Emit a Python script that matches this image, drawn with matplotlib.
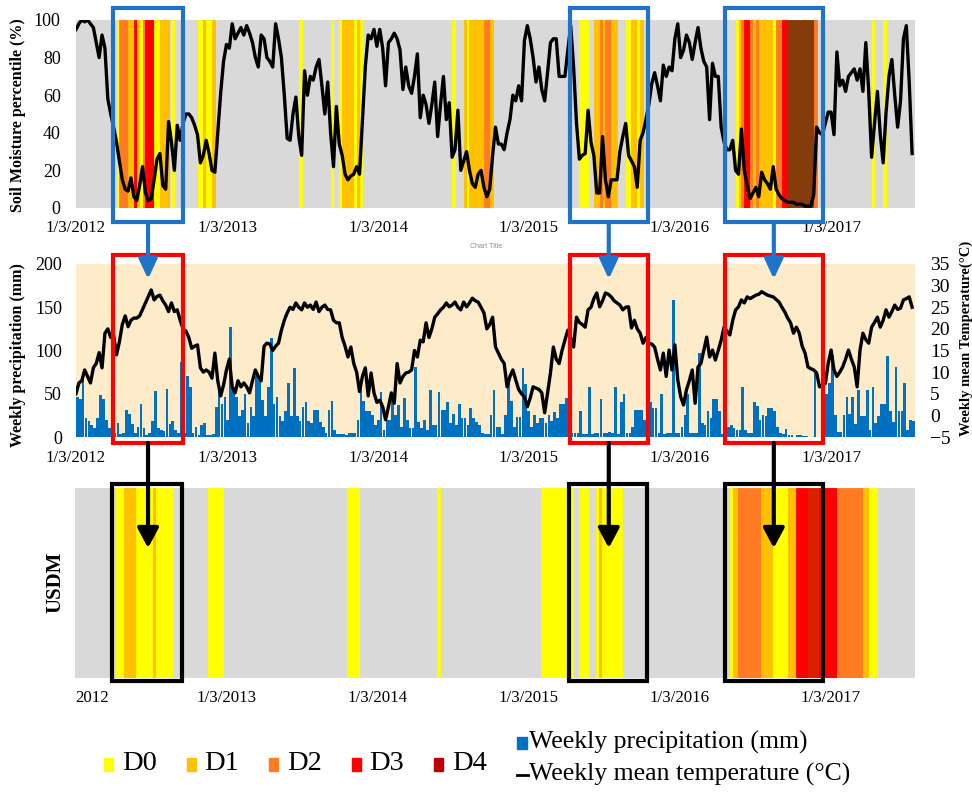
import matplotlib
matplotlib.use("Agg")
import matplotlib.dates as mdates
import matplotlib.pyplot as plt
import pandas as pd
from matplotlib.lines import Line2D
from matplotlib.patches import FancyArrowPatch, Rectangle

plt.rcParams["font.family"] = ["Liberation Serif", "DejaVu Serif"]

W, H = 972, 792

# weekly series, first week starting 1/3/2012
weeks = pd.date_range("2012-01-03", periods=290, freq="7D")
edges = pd.date_range("2012-01-03", periods=291, freq="7D")

soil_moisture = [
    95, 98, 100, 99, 100, 98, 96, 88, 80, 92,
    85, 58, 50, 43, 35, 25, 15, 10, 9, 16,
    6, 4, 12, 22, 8, 4, 5, 15, 26, 29,
    12, 10, 46, 35, 20, 44, 36, 45, 50, 50,
    48, 44, 39, 24, 28, 36, 29, 20, 19, 40,
    61, 78, 87, 85, 98, 90, 93, 96, 92, 97,
    93, 88, 80, 75, 92, 90, 80, 78, 75, 98,
    90, 80, 60, 37, 36, 50, 59, 38, 28, 73,
    60, 70, 68, 75, 79, 65, 50, 67, 40, 22,
    54, 34, 28, 18, 15, 17, 18, 22, 18, 47,
    75, 92, 90, 95, 86, 95, 85, 65, 88, 90,
    93, 90, 84, 63, 75, 65, 61, 70, 82, 48,
    60, 55, 45, 55, 67, 38, 55, 70, 47, 56,
    27, 31, 52, 20, 25, 30, 20, 13, 11, 18,
    20, 11, 6, 10, 28, 43, 34, 34, 31, 40,
    47, 60, 57, 65, 57, 89, 97, 90, 80, 67,
    75, 63, 57, 72, 88, 90, 90, 70, 70, 70,
    84, 97, 75, 45, 26, 28, 29, 52, 35, 28,
    8, 8, 38, 15, 6, 15, 15, 15, 30, 38,
    45, 28, 25, 22, 11, 36, 40, 47, 55, 66,
    72, 65, 57, 76, 70, 75, 73, 90, 98, 80,
    84, 92, 88, 79, 88, 96, 85, 78, 75, 47,
    77, 70, 70, 43, 35, 31, 31, 36, 20, 18,
    42, 20, 12, 5, 8, 11, 6, 19, 15, 13,
    10, 22, 10, 7, 5, 4, 3, 3, 3, 2,
    2, 2, 1, 1, 1, 7, 43, 40, 39, 45,
    51, 51, 39, 83, 65, 68, 62, 70, 72, 74,
    68, 74, 62, 88, 62, 27, 45, 62, 39, 24,
    51, 70, 79, 60, 43, 57, 90, 97, 67, 29,
]

temperature = [
    5, 7.5, 8, 10.5, 9, 7.5, 11, 12, 14.5, 11,
    19, 20, 18, 18.5, 14, 17, 21, 23, 20.5, 22,
    22.5, 22.5, 23, 24.5, 26, 27.5, 29, 26.7, 27.5, 27.8,
    26.5, 25.5, 24, 26, 24, 24.4, 22, 20, 19.5, 18,
    15.5, 16, 16.3, 11, 10, 10.5, 10, 8.6, 14.4, 8,
    4.5, 7, 10.5, 13, 6.5, 5.2, 8, 6.6, 7.5, 6.6,
    5.2, 8, 10.5, 9, 8, 16, 16.7, 16.5, 15, 16,
    16.7, 19.7, 22, 23.7, 25, 24.5, 26, 25, 24.4, 26,
    25, 25.5, 24.5, 26.2, 24, 25, 25.5, 24.5, 24.4, 22,
    21.4, 21.4, 18, 16, 13.5, 15.8, 12, 10, 5.5, 9,
    11, 4.5, 9.8, 5.2, 3, 3.5, 2, -1, 2, 5.2,
    2.8, 12, 7.5, 9, 9.8, 10, 10.5, 15, 13.5, 17.4,
    17, 21.4, 18, 20, 22.7, 23.5, 24.4, 25, 26, 25.1,
    25.5, 26.2, 25, 24.4, 26.2, 25.1, 26, 27.1, 26.5, 26.2,
    25, 23.7, 20, 21, 22.7, 15.8, 14.4, 13, 12, 6.6,
    9, 10.5, 8.2, 6, 5, 4.3, 2, 4, 6.6, 6.3,
    6, 5.2, 0.6, 5.2, 9.8, 15.8, 13, 12, 15, 17.4,
    19.7, 18, 15.8, 22.7, 21.5, 21, 20.4, 24.4, 25, 27,
    28.3, 25.1, 26.5, 28.3, 28, 27.4, 26.5, 26, 25.5, 24.4,
    25, 25.1, 20.2, 22, 20, 19, 16.7, 18, 16.7, 16.5,
    15.8, 13, 10.5, 14.4, 9, 15.1, 10.5, 16.3, 8.2, 4.3,
    2.4, 5.9, 8, 10.5, 2.8, 11.2, 12, 15, 18.1, 13.5,
    15.1, 12.8, 15, 17.4, 20.4, 19.5, 18.6, 22, 24.4, 25.1,
    26.7, 26, 27.4, 27, 27.4, 27.8, 28, 28.6, 28.2, 27.8,
    27.6, 27.4, 26.8, 26.2, 25, 23.9, 22.5, 21.4, 19, 20.4,
    19, 16, 14.4, 11.2, 10.8, 10.5, 9.8, 6.6, 7, 7.4,
    12, 15.1, 10.5, 9, 10, 11.2, 13, 15.1, 13, 11.2,
    6.6, 15.1, 19, 17.5, 16.7, 20.4, 21.5, 22.7, 20.4, 22,
    24.4, 22.7, 24, 25.5, 24.5, 24.8, 26.7, 27, 27.4, 25,
]

precip = [
    46, 44, 66, 22, 19, 14, 10, 22, 48, 44,
    20, 10, 8, 5, 16, 3, 5, 31, 27, 15,
    5, 12, 38, 10, 2, 5, 18, 53, 10, 8,
    7, 55, 15, 18, 8, 5, 87, 5, 70, 58,
    5, 12, 2, 14, 16, 2, 2, 3, 35, 60,
    38, 46, 20, 127, 58, 46, 24, 31, 50, 16,
    35, 24, 70, 66, 43, 24, 58, 114, 38, 46,
    24, 18, 30, 62, 24, 80, 24, 18, 35, 40,
    18, 16, 31, 31, 17, 12, 5, 31, 42, 8,
    3, 3, 4, 2, 5, 5, 5, 20, 58, 42,
    30, 30, 26, 14, 20, 52, 8, 20, 20, 50,
    26, 37, 12, 45, 20, 10, 10, 81, 17, 10,
    20, 8, 54, 14, 14, 52, 31, 31, 41, 16,
    27, 14, 38, 22, 22, 14, 34, 22, 17, 14,
    5, 4, 4, 26, 54, 12, 12, 4, 25, 62,
    42, 12, 23, 23, 80, 61, 30, 12, 26, 16,
    22, 22, 16, 25, 18, 29, 22, 38, 38, 45,
    46, 5, 5, 5, 30, 4, 4, 58, 4, 5,
    5, 44, 5, 5, 6, 5, 58, 4, 40, 50,
    5, 5, 12, 31, 31, 31, 20, 15, 40, 34,
    34, 5, 50, 4, 5, 5, 158, 5, 5, 12,
    25, 50, 5, 5, 5, 97, 16, 14, 30, 22,
    44, 44, 30, 3, 8, 12, 14, 10, 8, 8,
    58, 8, 5, 5, 40, 36, 20, 26, 24, 33,
    33, 30, 12, 5, 3, 9, 2, 2, 0, 2,
    2, 1, 1, 0, 0, 74, 0, 0, 25, 50,
    62, 95, 25, 6, 6, 25, 46, 27, 46, 15,
    54, 24, 24, 54, 8, 58, 16, 24, 38, 38,
    94, 30, 17, 81, 30, 30, 62, 8, 20, 18,
]

# drought class runs: (first week, end week exclusive, class 1=D0 ... 5=D4)
sm_runs = [
    (14, 15, 1), (15, 18, 3), (18, 20, 2), (20, 21, 4), (21, 22, 2), (22, 23, 1),
    (23, 24, 3), (24, 27, 4), (27, 29, 1), (29, 32, 2), (33, 34, 1),
    (42, 44, 1), (44, 45, 2), (45, 47, 1), (47, 48, 2),
    (77, 78, 1),
    (88, 89, 1), (91, 92, 1), (92, 96, 2), (96, 97, 1), (97, 98, 2), (98, 99, 1),
    (130, 131, 1), (134, 135, 2), (135, 136, 1), (136, 141, 2), (141, 143, 3), (143, 144, 2),
    (174, 177, 1), (179, 181, 2), (181, 182, 3), (182, 183, 2), (183, 185, 3), (185, 187, 2),
    (190, 192, 1), (192, 194, 2), (194, 195, 1), (195, 196, 2),
    (228, 229, 1), (229, 230, 2), (230, 231, 3), (231, 233, 4), (233, 234, 3), (234, 235, 2),
    (235, 236, 3), (236, 241, 2), (241, 242, 1), (242, 244, 3), (244, 246, 4), (246, 255, 5),
    (255, 256, 3),
    (275, 276, 1), (279, 280, 1),
]

usdm_runs = [
    (14, 17, 1), (17, 21, 2), (21, 27, 1), (27, 28, 2), (28, 34, 1),
    (46, 51, 1), (94, 98, 1), (125, 126, 1),
    (161, 172, 1), (174, 177, 1), (180, 181, 1), (181, 182, 2), (182, 189, 1),
    (226, 227, 1), (227, 229, 2), (229, 237, 3), (237, 241, 2), (241, 246, 1), (246, 249, 2),
    (249, 253, 4), (253, 257, 5), (257, 263, 4), (263, 272, 3), (272, 274, 2), (274, 277, 1),
]

classes = ["D0", "D1", "D2", "D3", "D4"]
class_colors = ["#ffff00", "#ffc000", "#ff7c24", "#ff0000", "#c00000"]
sm_colors = {1: "#ffff00", 2: "#ffc000", 3: "#ff7c24", 4: "#ff0000", 5: "#843c0c"}
usdm_colors = {1: "#ffff00", 2: "#ffc000", 3: "#ff7c24", 4: "#ff0000", 5: "#d92100"}

year_ticks = pd.to_datetime(["2012-01-03", "2013-01-03", "2014-01-03",
                             "2015-01-03", "2016-01-03", "2017-01-03"])
year_labels = ["1/3/2012", "1/3/2013", "1/3/2014", "1/3/2015", "1/3/2016", "1/3/2017"]
usdm_labels = ["2012"] + year_labels[1:]

# highlighted drought periods (weeks)
periods = [(12.8, 37.0), (170.7, 197.6), (224.3, 258.1)]

fig = plt.figure(figsize=(W / 100, H / 100), dpi=100)


def add_axes_px(left, top, right, bottom):
    return fig.add_axes([left / W, 1 - bottom / H, (right - left) / W, (bottom - top) / H])


def style_axis(ax, labels, pad):
    ax.set_xlim(edges[0], edges[-1])
    ax.set_xticks(year_ticks)
    ax.set_xticklabels(labels)
    for s in ax.spines.values():
        s.set_visible(False)
    ax.tick_params(axis="x", length=0, labelsize=12.2, pad=pad)


def shade(ax, runs, colors):
    for s, e, c in runs:
        ax.axvspan(edges[s], edges[e], fc=colors[c], ec=colors[c], lw=0.6, zorder=1)


# soil moisture panel
ax1 = add_axes_px(76, 20, 915, 208)
ax1.set_facecolor("#d9d9d9")
shade(ax1, sm_runs, sm_colors)
ax1.plot(weeks, soil_moisture, color="black", lw=2.4, zorder=3)
ax1.set_ylim(0, 100)
ax1.set_yticks(range(0, 101, 20))
style_axis(ax1, year_labels, 9)
ax1.tick_params(axis="y", length=0, labelsize=13, pad=11)

# precipitation / temperature panel
ax2 = add_axes_px(76, 264, 915, 437)
ax2.set_facecolor("#fdebc9")
ax2.bar(weeks, precip, width=6.5, align="edge", color="#0070c0", zorder=2)
ax2.set_ylim(0, 200)
ax2.set_yticks(range(0, 201, 50))
style_axis(ax2, year_labels, 9)
ax2.tick_params(axis="y", length=0, labelsize=13, pad=10)
ax2t = ax2.twinx()
ax2t.plot(weeks, temperature, color="black", lw=2.4)
ax2t.set_ylim(-5, 35)
ax2t.set_yticks(range(-5, 36, 5))
for s in ax2t.spines.values():
    s.set_visible(False)
ax2t.tick_params(axis="y", length=0, labelsize=14, pad=11)

# USDM panel
ax3 = add_axes_px(75, 488, 915, 678)
ax3.set_facecolor("#d9d9d9")
shade(ax3, usdm_runs, usdm_colors)
ax3.set_yticks([])
style_axis(ax3, usdm_labels, 9)
ax3.get_xticklabels()[0].set_ha("left")

fig.text(18 / W, 1 - 115 / H, "Soil Moisture percentile (%)", rotation=90,
         ha="center", va="center", weight="bold", size=11.5)
fig.text(18 / W, 1 - 355 / H, "Weekly precipitation (mm)", rotation=90,
         ha="center", va="center", weight="bold", size=11.5)
fig.text(966 / W, 1 - 338 / H, "Weekly mean Temperature(°C)", rotation=90,
         ha="center", va="center", weight="bold", size=10.5)
fig.text(55 / W, 1 - 582 / H, "USDM", rotation=90,
         ha="center", va="center", weight="bold", size=15)
fig.text(486 / W, 1 - 247 / H, "Chart Title", ha="center", va="center",
         size=5, color="#8c8c8c", family="Liberation Sans")

fig.canvas.draw()
to_fig = fig.transFigure.inverted()


def week_x(ax, wk):
    d = mdates.date2num(edges[0]) + 7 * wk
    return to_fig.transform(ax.transData.transform((d, 0)))[0]


def fy(y_px):
    return 1 - y_px / H


box_specs = [
    (ax1, 8, 222, "#1f73c8"),
    (ax2, 255, 443, "#ff0000"),
    (ax3, 484, 681, "black"),
]
for ax, top, bottom, col in box_specs:
    for w0, w1 in periods:
        x0, x1 = week_x(ax, w0), week_x(ax, w1)
        fig.add_artist(Rectangle((x0, fy(bottom)), x1 - x0, fy(top) - fy(bottom),
                                 transform=fig.transFigure, fill=False,
                                 ec=col, lw=3, zorder=10))

arrow_specs = [
    (ax1, 222, 279, "#1f73c8", "-|>,head_length=0.6,head_width=0.28"),
    (ax2, 443, 548, "black", "-|>,head_length=0.6,head_width=0.32"),
]
for ax, y0, y1, col, style in arrow_specs:
    for w0, w1 in periods:
        xc = week_x(ax, (w0 + w1) / 2)
        fig.add_artist(FancyArrowPatch((xc, fy(y0)), (xc, fy(y1)),
                                       transform=fig.transFigure, arrowstyle=style,
                                       mutation_scale=20, color=col, lw=3,
                                       shrinkA=0, shrinkB=0, zorder=11))

# legend
for i, (name, col) in enumerate(zip(classes, class_colors)):
    x = 104 + 82.5 * i
    fig.add_artist(Rectangle((x / W, fy(771)), 9 / W, 13 / H,
                             transform=fig.transFigure, color=col))
    fig.text((x + 18) / W, fy(763), name, ha="left", va="center", size=20.5)
fig.add_artist(Rectangle((517 / W, fy(749)), 10 / W, 12 / H,
                         transform=fig.transFigure, color="#0070c0"))
fig.text(529 / W, fy(742), "Weekly precipitation (mm)", ha="left", va="center", size=18.5)
fig.add_artist(Line2D([517 / W, 528 / W], [fy(775), fy(775)],
                      transform=fig.transFigure, color="black", lw=2))
fig.text(529 / W, fy(774), "Weekly mean temperature (°C)", ha="left", va="center", size=18.5)

fig.savefig("out.png", dpi=100)
